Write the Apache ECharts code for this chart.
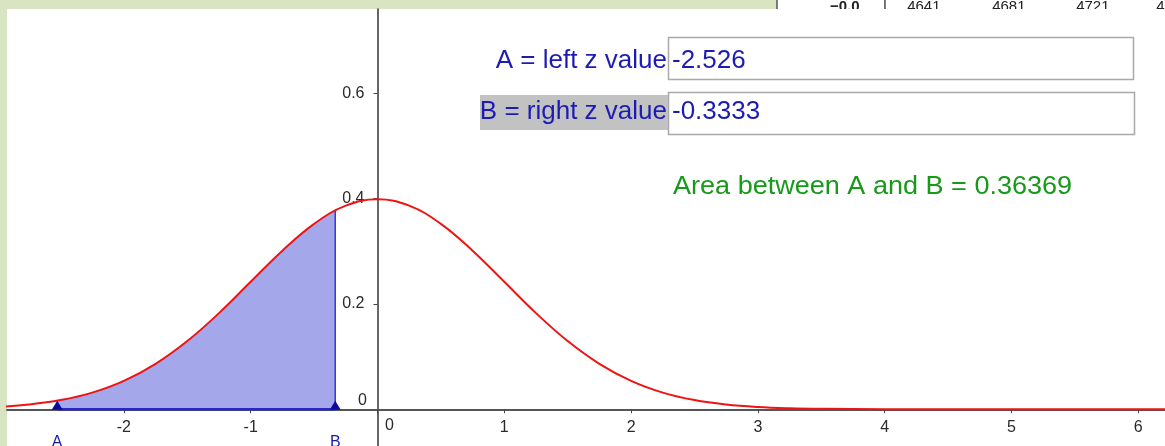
<!DOCTYPE html>
<html>
<head>
<meta charset="utf-8">
<title>Area between A and B</title>
<script src="https://cdn.jsdelivr.net/npm/echarts@6/dist/echarts.min.js"></script>
<style>
  html, body { margin: 0; padding: 0; background: #d8e4c2; }
  #chart { width: 1165px; height: 446px; }
</style>
</head>
<body>
<div id="chart"></div>
<script>
// Standard normal density, sampled along z
const zValues = [-3, -2.75, -2.5, -2.25, -2, -1.75, -1.5, -1.25, -1, -0.75, -0.5, -0.25,
  0, 0.25, 0.5, 0.75, 1, 1.25, 1.5, 1.75, 2, 2.25, 2.5, 2.75, 3, 3.25, 3.5, 4, 4.5, 5, 5.5, 6, 6.5];
const density = [0.0044, 0.0091, 0.0175, 0.0317, 0.0540, 0.0863, 0.1295, 0.1826, 0.2420, 0.3011, 0.3521, 0.3867,
  0.3989, 0.3867, 0.3521, 0.3011, 0.2420, 0.1826, 0.1295, 0.0863, 0.0540, 0.0317, 0.0175, 0.0091, 0.0044, 0.0020, 0.0009, 0.0001, 0, 0, 0, 0, 0];

// Interval bounds and the density at each bound
const zA = -2.526;
const zB = -0.3333;
const densityAtA = 0.0165;
const densityAtB = 0.3774;
const areaAB = 0.36369;

// Axis ticks and labels
const xTicks = [-2, -1, 0, 1, 2, 3, 4, 5, 6];
const xTickLabels = [-2, -1, 1, 2, 3, 4, 5, 6];
const yTickLabels = [0.2, 0.4, 0.6];

// Column headings of the z table behind the graph window
const tableHeader = ['\u22120.0', '|', '.4641', '.4681', '.4721', '.4'];

const curve = zValues.map((z, i) => [z, density[i]]);
const shaded = [[zA, densityAtA]]
  .concat(zValues.map((z, i) => [z, density[i]]).filter(p => p[0] > zA + 0.1 && p[0] < zB))
  .concat([[zB, densityAtB]]);

// Graph window and visible ranges
const view = { left: 7, top: 9, width: 1158, height: 437 };
const xRange = [-2.922, 6.211];
const yRange = [-0.0697, 0.760];
// The axes cross at the origin: shift each axis from the grid edge to zero
const xAxisOffset = -(view.height * (0 - yRange[0]) / (yRange[1] - yRange[0]));
const yAxisOffset = -(view.width * (0 - xRange[0]) / (xRange[1] - xRange[0]));

const tickFont = { color: '#2a2a2a', fontSize: 16, fontFamily: 'Liberation Sans, Arial, sans-serif' };
const blueText = '#1c1cb4';
const bigFont = '26px Liberation Sans, Arial, sans-serif';

const chart = echarts.init(document.getElementById('chart'));

const tableX = [830, 883, 903, 988, 1072, 1152];
const graphic = [
  { type: 'rect', z: -20, shape: { x: 777, y: 0, width: 388, height: 9 }, style: { fill: '#fff' } },
  { type: 'line', z: -20, shape: { x1: 777, y1: 0, x2: 777, y2: 9 }, style: { stroke: '#555', lineWidth: 1.5 } }
].concat(tableHeader.map((t, i) => ({
  type: 'text', z: -19, x: tableX[i], y: 14,
  style: { text: t, fill: '#222', font: (i === 0 ? 'bold ' : '') + '15px Liberation Sans, Arial, sans-serif', textVerticalAlign: 'bottom' }
}))).concat([
  { type: 'rect', z: -10, shape: { x: view.left, y: view.top, width: view.width, height: view.height }, style: { fill: '#fff' } },
  // input boxes
  { type: 'rect', shape: { x: 668.5, y: 37.5, width: 465, height: 42 }, style: { fill: '#fff', stroke: '#a9a9a9', lineWidth: 1.5 } },
  { type: 'rect', shape: { x: 668.5, y: 92.5, width: 466, height: 42 }, style: { fill: '#fff', stroke: '#a9a9a9', lineWidth: 1.5 } },
  { type: 'rect', shape: { x: 480, y: 95, width: 188, height: 35 }, style: { fill: '#c2c2c2' } },
  { type: 'text', x: 667, y: 61, style: { text: 'A = left z value', fill: blueText, font: bigFont, textAlign: 'right', textVerticalAlign: 'middle' } },
  { type: 'text', x: 667, y: 112, style: { text: 'B = right z value', fill: blueText, font: bigFont, textAlign: 'right', textVerticalAlign: 'middle' } },
  { type: 'text', x: 672, y: 61, style: { text: String(zA), fill: blueText, font: bigFont, textVerticalAlign: 'middle' } },
  { type: 'text', x: 672, y: 112, style: { text: String(zB), fill: blueText, font: bigFont, textVerticalAlign: 'middle' } },
  { type: 'text', x: 673, y: 187, scaleX: 1.04, style: { text: 'Area between A and B = ' + areaAB, fill: '#17991a', font: bigFont, textVerticalAlign: 'middle' } }
]);

chart.setOption({
  backgroundColor: '#d8e4c2',
  animation: false,
  grid: { left: view.left, top: view.top, width: view.width, height: view.height, containLabel: false, outerBoundsMode: 'none' },
  xAxis: {
    type: 'value', min: xRange[0], max: xRange[1], position: 'bottom', offset: xAxisOffset,
    axisLine: { onZero: false, lineStyle: { color: '#555', width: 2 } },
    axisTick: { show: true, customValues: xTicks, length: 4, lineStyle: { color: '#444', width: 1 } },
    axisLabel: Object.assign({ customValues: xTickLabels, margin: 10 }, tickFont),
    splitLine: { show: false }
  },
  yAxis: {
    type: 'value', min: yRange[0], max: yRange[1], position: 'left', offset: yAxisOffset,
    axisLine: { onZero: false, lineStyle: { color: '#333', width: 1.5 } },
    axisTick: { show: true, customValues: yTickLabels, length: 4, lineStyle: { color: '#444', width: 1 } },
    axisLabel: Object.assign({ customValues: yTickLabels, margin: 13, formatter: v => v.toFixed(1) }, tickFont),
    splitLine: { show: false }
  },
  graphic: graphic,
  series: [
    {
      name: 'area', type: 'line', data: shaded, smooth: 0.4,
      symbol: 'none', lineStyle: { width: 0 },
      areaStyle: { color: '#a4a8ea', opacity: 1 }, z: 2
    },
    {
      name: 'bound B', type: 'line', data: [[zB, 0], [zB, densityAtB]],
      symbol: 'none', lineStyle: { color: '#3434e4', width: 1.5 }, z: 3
    },
    {
      name: 'base', type: 'line', data: [[zA, 0], [zB, 0]],
      symbol: 'none', lineStyle: { color: '#2828c8', width: 2.5 }, z: 3
    },
    {
      name: 'density', type: 'line', data: curve, smooth: 0.4,
      symbol: 'none', lineStyle: { color: '#ee1414', width: 2 }, z: 4
    },
    {
      name: 'points', type: 'scatter', symbol: 'triangle', symbolSize: [11, 9], symbolOffset: [0, -4],
      itemStyle: { color: '#0c0c9c', opacity: 1 }, z: 5,
      label: { show: true, position: 'bottom', distance: 25, color: '#1a1aa8', fontSize: 16, fontFamily: 'Liberation Sans, Arial, sans-serif' },
      data: [
        { value: [zA, 0], label: { formatter: 'A' } },
        { value: [zB, 0], label: { formatter: 'B' } }
      ]
    },
    {
      name: 'origin', type: 'scatter', symbolSize: 0, z: 5, silent: true,
      itemStyle: { opacity: 1 },
      label: Object.assign({ show: true, position: 'inside', formatter: '0' }, tickFont),
      data: [
        { value: [0, 0], label: { offset: [12, 16] } },
        { value: [0, 0], label: { offset: [-15, -9] } }
      ]
    }
  ]
});
</script>
</body>
</html>
